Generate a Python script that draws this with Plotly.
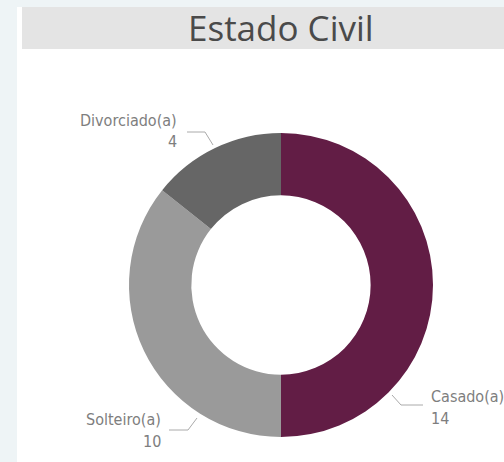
import plotly.graph_objects as go

# Data
categories = ["Casado(a)", "Solteiro(a)", "Divorciado(a)"]
values = [14, 10, 4]
colors = ["#621D45", "#9A9A9A", "#666666"]
title_text = "Estado Civil"

W, H = 504, 462
cx, cy, R = 281, 285, 152


def px(x):
    return x / W


def py(y):
    return 1 - y / H


fig = go.Figure()
fig.add_trace(go.Pie(
    labels=categories,
    values=values,
    marker=dict(colors=colors, line=dict(width=0)),
    hole=0.59,
    sort=False,
    direction="clockwise",
    rotation=0,
    textinfo="none",
    hoverinfo="label+value",
    showlegend=False,
    domain=dict(x=[px(cx - R), px(cx + R)], y=[py(cy + R), py(cy - R)]),
))

shapes = [
    dict(type="rect", xref="paper", yref="paper", x0=px(17), x1=1, y0=0, y1=py(7),
         fillcolor="white", line=dict(width=0), layer="below"),
    dict(type="rect", xref="paper", yref="paper", x0=px(22), x1=1, y0=py(49), y1=py(7),
         fillcolor="#E4E4E4", line=dict(width=0), layer="below"),
]

# label layout: (text anchor x, name y, value y, xanchor, leader polyline points)
label_layout = {
    "Divorciado(a)": dict(x=179, y1=121, y2=142, xanchor="right",
                          pts=[(187, 132), (205, 132), (213, 145)]),
    "Solteiro(a)": dict(x=163, y1=419, y2=441, xanchor="right",
                        pts=[(169, 430), (188, 430), (197, 418)]),
    "Casado(a)": dict(x=429, y1=396, y2=418, xanchor="left",
                      pts=[(423, 405), (401, 405), (392, 395)]),
}

annotations = [dict(text=title_text, x=px(281), y=py(28), xref="paper", yref="paper",
                    showarrow=False, xanchor="center", yanchor="middle",
                    font=dict(family="Open Sans, DejaVu Sans", size=35, color="#4A4A4A"))]

label_font = dict(family="DejaVu Sans Condensed, DejaVu Sans", size=16, color="#7E7E7E")
for name, val in zip(categories, values):
    L = label_layout[name]
    annotations.append(dict(text=name, x=px(L["x"]), y=py(L["y1"]), xref="paper", yref="paper",
                            showarrow=False, xanchor=L["xanchor"], yanchor="middle", font=label_font))
    annotations.append(dict(text=str(val), x=px(L["x"]), y=py(L["y2"]), xref="paper", yref="paper",
                            showarrow=False, xanchor=L["xanchor"], yanchor="middle", font=label_font))
    pts = L["pts"]
    path = "M " + " L ".join(f"{px(a)},{py(b)}" for a, b in pts)
    shapes.append(dict(type="path", xref="paper", yref="paper", path=path,
                       line=dict(color="#AAAAAA", width=1)))

fig.update_layout(
    width=W, height=H,
    margin=dict(l=0, r=0, t=0, b=0),
    paper_bgcolor="#EEF4F6",
    plot_bgcolor="white",
    shapes=shapes,
    annotations=annotations,
)

fig.write_html(
    "out.html",
    config={"displayModeBar": False},
    post_script="document.body.style.margin='0';document.body.style.overflow='hidden';",
)
